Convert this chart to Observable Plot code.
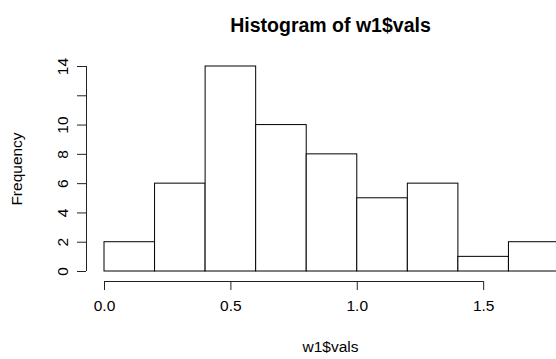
<!DOCTYPE html>
<html>
<head>
<meta charset="utf-8">
<script src="https://cdn.jsdelivr.net/npm/d3@7"></script>
<script src="https://cdn.jsdelivr.net/npm/@observablehq/plot@0.6"></script>
<style>
  html, body { margin: 0; padding: 0; background: #fff; }
</style>
</head>
<body>
<div id="chart"></div>
<script>
const breaks = [0, 0.2, 0.4, 0.6, 0.8, 1.0, 1.2, 1.4, 1.6, 1.8];
const counts = [2, 6, 14, 10, 8, 5, 6, 1, 2];
const xTicks = [0, 0.5, 1.0, 1.5];
const yTicks = [0, 2, 4, 6, 8, 10, 12, 14];
const yTickLabels = [0, 2, 4, 6, 8, 10, 14];

const bins = counts.map((c, i) => ({x1: breaks[i], x2: breaks[i + 1], count: c}));

const chart = Plot.plot({
  width: 556,
  height: 359,
  marginLeft: 104,
  marginRight: 0,
  marginTop: 66,
  marginBottom: 88,
  style: {fontFamily: "'Liberation Sans', Arial, sans-serif", fontSize: "15.5px", color: "#000", background: "#fff", overflow: "hidden"},
  x: {domain: [0, 1.8], range: [104, 559]},
  y: {domain: [0, 14]},
  marks: [
    Plot.rectY(bins, {x1: "x1", x2: "x2", y1: 0, y2: "count", fill: "white", stroke: "black", strokeWidth: 1}),
    Plot.ruleY([0], {x1: xTicks[0], x2: xTicks[xTicks.length - 1], dy: 10, stroke: "#222"}),
    Plot.axisX({ticks: xTicks, tickSize: 9, tickPadding: 9, dy: 10, tickFormat: d3.format(".1f"), label: null, stroke: "#222", fontSize: 15.5}),
    Plot.ruleX([0], {y1: yTicks[0], y2: yTicks[yTicks.length - 1], dx: -18, stroke: "#222"}),
    Plot.axisY({ticks: yTicks, tickSize: 9, tickPadding: 10, dx: -18, tickRotate: -90, label: null, stroke: "#222", fontSize: 15.5,
      tickFormat: d => yTickLabels.includes(d) ? String(d) : ""}),
    Plot.text(["Histogram of w1$vals"], {frameAnchor: "top", dy: -48, fontWeight: "bold", fontSize: 19.5, fill: "black"}),
    Plot.text(["w1$vals"], {frameAnchor: "bottom", dy: 80, fontSize: 15.5, fill: "black"}),
    Plot.text(["Frequency"], {frameAnchor: "left", dx: -87, rotate: -90, textAnchor: "middle", fontSize: 15.5, fill: "black"})
  ]
});
document.getElementById("chart").appendChild(chart);
</script>
</body>
</html>
